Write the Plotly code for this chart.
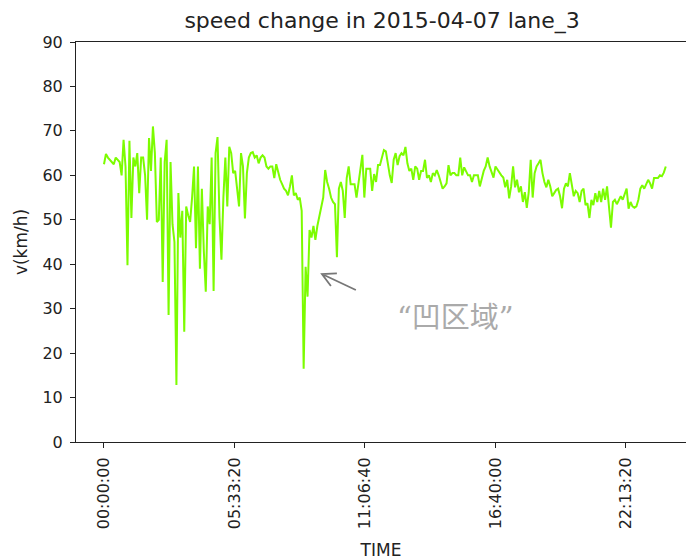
import math
import plotly.graph_objects as go

# Lane 3 speed samples for 2015-04-07, one every 5 minutes (km/h)
step_seconds = 300
speed = [
    62.5, 64.8, 64.0, 63.5, 63.0, 62.5, 64.0, 63.5, 63.0, 60.0,
    68.0, 62.0, 39.8, 67.8, 50.4, 64.0, 62.0, 65.0, 56.0, 64.0,
    64.0, 60.0, 50.0, 68.4, 61.0, 71.0, 65.0, 49.5, 50.0, 64.0,
    36.0, 63.0, 68.0, 28.6, 63.0, 49.0, 45.0, 12.8, 56.0, 46.0,
    52.0, 24.8, 53.0, 51.0, 49.5, 55.0, 62.0, 43.6, 62.0, 39.0,
    57.0, 43.0, 33.8, 53.0, 49.0, 64.0, 34.0, 65.0, 68.6, 50.6,
    41.0, 55.0, 64.0, 53.0, 66.4, 65.0, 60.5, 61.0, 57.0, 53.0,
    65.0, 62.0, 50.3, 60.5, 64.0, 65.0, 65.2, 64.0, 64.5, 62.7,
    64.0, 64.5, 64.0, 62.0, 61.5, 62.0, 62.0, 59.4, 62.5, 60.5,
    59.0, 58.0, 57.0, 56.5, 55.5, 57.5, 60.0, 55.5, 56.0, 54.5,
    55.0, 52.0, 16.5, 39.4, 32.7, 47.7, 46.0, 48.6, 45.5, 48.6,
    50.6, 53.0, 55.0, 61.2, 58.5, 57.0, 55.0, 54.0, 53.5, 41.6,
    57.0, 58.5, 56.5, 50.4, 59.4, 62.0, 58.0, 58.0, 58.0, 55.0,
    58.0, 61.5, 64.6, 55.0, 61.5, 61.5, 61.5, 56.5, 60.3, 58.5,
    62.3, 62.3, 64.0, 65.7, 65.4, 62.3, 60.0, 58.3, 63.5, 65.0,
    62.3, 64.3, 65.0, 64.5, 66.4, 62.7, 61.0, 61.5, 59.0, 62.0,
    61.5, 59.0, 61.0, 61.0, 63.5, 59.4, 60.0, 58.5, 60.5, 60.0,
    61.2, 60.0, 58.5, 57.0, 57.5, 58.2, 62.3, 60.0, 60.5, 60.5,
    60.0, 60.0, 64.0, 60.0, 61.8, 61.0, 60.0, 60.0, 58.5, 60.0,
    60.0, 60.0, 57.5, 59.5, 61.0, 62.0, 64.0, 62.0, 60.5, 59.5,
    62.0, 61.3, 60.5, 60.0, 59.5, 57.3, 59.0, 54.8, 57.5, 62.0,
    57.3, 59.0, 56.2, 57.5, 54.0, 56.2, 52.7, 56.2, 63.5, 55.0,
    60.5, 62.0, 62.7, 63.5, 60.5, 58.5, 57.3, 59.0, 57.5, 55.3,
    56.0, 56.7, 57.0, 55.3, 52.6, 57.0, 58.2, 57.5, 60.5, 57.5,
    55.3, 56.5, 56.0, 54.0, 56.5, 57.0, 53.3, 53.7, 50.4, 54.5,
    53.3, 56.0, 54.0, 56.5, 54.0, 57.0, 54.5, 57.5, 53.3, 48.2,
    54.0, 54.5, 53.5, 54.5, 55.3, 54.5, 56.0, 57.0, 52.5, 54.0,
    53.0, 52.7, 53.0, 54.5, 57.0, 57.8, 57.0, 58.2, 59.0, 58.2,
    57.0, 59.4, 59.4, 59.4, 60.0, 59.8, 60.6, 62.0,
]
seconds = [i * step_seconds for i in range(len(speed))]

tick_seconds = [0, 20000, 40000, 60000, 80000]
tick_labels = ["00:00:00", "05:33:20", "11:06:40", "16:40:00", "22:13:20"]
y_ticks = [0, 10, 20, 30, 40, 50, 60, 70, 80, 90]

title_text = "speed change in 2015-04-07 lane_3"
note_text = "“凹区域”"

font_main = "DejaVu Sans"
axis_color = "#222222"

W, H = 686, 560
M_L, M_R, M_T, M_B = 76, 0, 42, 118
x_range = [-4290, 89200]
y_range = [0, 90]

# data units per screen pixel, used to keep the arrow head's angle true on screen
sx = (x_range[1] - x_range[0]) / (W - M_L - M_R)
sy = (y_range[1] - y_range[0]) / (H - M_T - M_B)

fig = go.Figure()
fig.add_trace(go.Scatter(
    x=seconds, y=speed, mode="lines",
    line=dict(color="#7CFC00", width=2),
    hoverinfo="skip", showlegend=False,
))

# open "->" arrow pointing at the dip around 10:00
tip = (33400, 37.8)
tail = (38600, 34.2)
dxp = (tail[0] - tip[0]) / sx
dyp = (tail[1] - tip[1]) / sy
ang = math.atan2(dyp, dxp)
head_len, head_spread = 15, math.radians(28)
arms = []
for s in (1, -1):
    a = ang + s * head_spread
    arms.append((tip[0] + head_len * math.cos(a) * sx, tip[1] + head_len * math.sin(a) * sy))
arrow_path = (
    f"M{tail[0]},{tail[1]} L{tip[0]},{tip[1]} "
    f"M{arms[0][0]},{arms[0][1]} L{tip[0]},{tip[1]} L{arms[1][0]},{arms[1][1]}"
)
fig.add_shape(type="path", path=arrow_path, xref="x", yref="y",
              line=dict(color="#777777", width=1.8))

fig.add_annotation(
    x=53800, y=27.9, xref="x", yref="y",
    text=note_text, showarrow=False,
    font=dict(family="DejaVu Serif, Noto Sans CJK SC", size=29, color="#aaaaaa"),
)

fig.update_layout(
    width=W, height=H,
    margin=dict(l=M_L, r=M_R, t=M_T, b=M_B),
    paper_bgcolor="white", plot_bgcolor="white",
    title=dict(text=title_text, x=0.557, xanchor="center", y=0.963, yanchor="middle",
               font=dict(family=font_main, size=22, color=axis_color)),
    font=dict(family=font_main, color=axis_color),
)
fig.update_xaxes(
    range=x_range, tickmode="array", tickvals=tick_seconds, ticktext=tick_labels,
    tickangle=-90, ticks="outside", ticklen=5, tickcolor=axis_color,
    tickfont=dict(size=16, color=axis_color), ticklabelstandoff=3,
    showline=True, linecolor=axis_color, linewidth=1, mirror=True,
    showgrid=False, zeroline=False,
    title=dict(text="TIME", font=dict(size=17, color=axis_color), standoff=17),
)
fig.update_yaxes(
    range=y_range, tickmode="array", tickvals=y_ticks,
    ticks="outside", ticklen=5, tickcolor=axis_color,
    tickfont=dict(size=16, color=axis_color), ticklabelstandoff=4,
    showline=True, linecolor=axis_color, linewidth=1, mirror=False,
    showgrid=False, zeroline=False,
    title=dict(text="v(km/h)", font=dict(size=17, color=axis_color), standoff=10),
)

fig.write_html("out.html")
